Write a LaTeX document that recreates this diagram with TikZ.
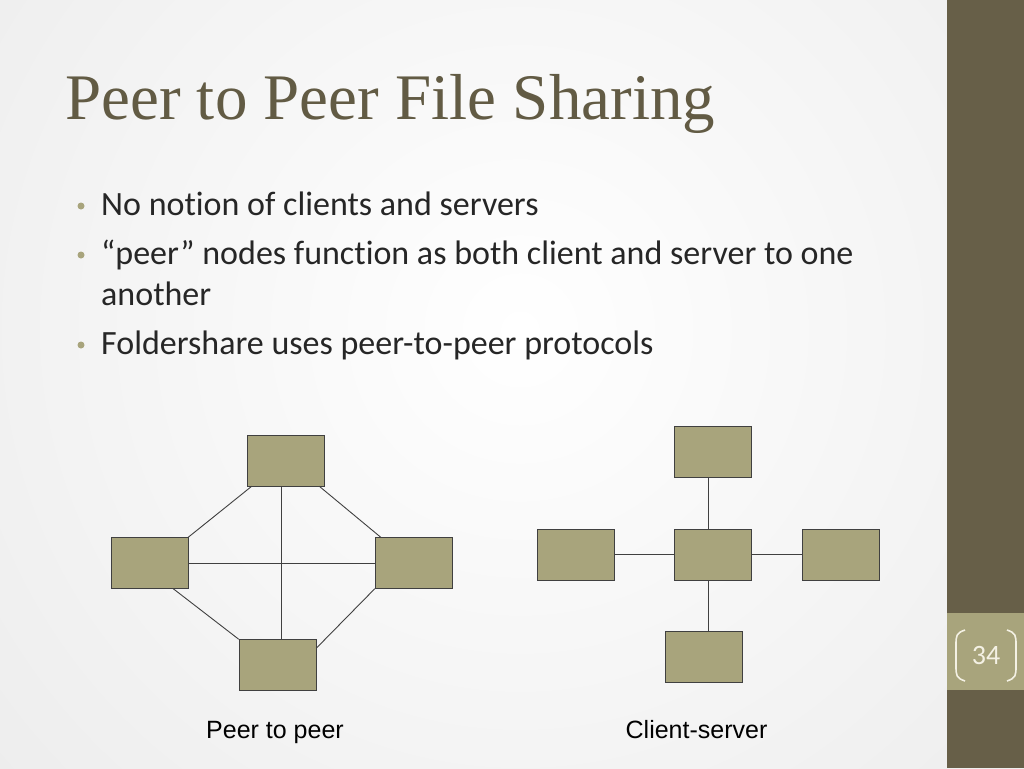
\documentclass[tikz,border=0pt]{standalone}
\usepackage{fontspec}
\setmainfont{Liberation Serif}
\newfontfamily\bodyfont[Ligatures=NoCommon]{Carlito}
\newfontfamily\capfont{Liberation Sans}
\definecolor{barbrown}{HTML}{675F48}
\definecolor{boxtan}{HTML}{A8A47C}
\definecolor{titlebrown}{HTML}{625B44}
\definecolor{cream}{HTML}{F4F1E4}
\begin{document}
\begin{tikzpicture}[x=1pt,y=-1pt,
    hostbox/.style={draw=black!75,fill=boxtan,minimum width=77pt,minimum height=51pt,inner sep=0pt},
    link/.style={draw=black!75,line width=.9pt},
    bulletdot/.style={circle,fill=boxtan,inner sep=0pt,minimum size=7pt},
    bullettext/.style={anchor=base west,inner sep=0pt,text=black!85,font=\bodyfont\fontsize{34}{34}\selectfont},
    caption/.style={anchor=base,inner sep=0pt,font=\capfont\fontsize{25}{25}\selectfont}]
  \useasboundingbox (0,0) rectangle (1024,768);
  % background and side bar
  \shade[inner color=white,outer color=black!10] (-460,-640) rectangle (1500,1300);
  \fill[barbrown] (947,0) rectangle (1024,768);
  \fill[boxtan] (947,613) rectangle (1024,690);
  \draw[cream,line width=1.6pt] (965,630) .. controls (956,633) and (956,636) .. (956,645)
    -- (956,666) .. controls (956,675) and (956,678) .. (965,681);
  \draw[cream,line width=1.6pt] (1007,630) .. controls (1016,633) and (1016,636) .. (1016,645)
    -- (1016,666) .. controls (1016,675) and (1016,678) .. (1007,681);
  \node[text=cream,inner sep=0pt,font=\bodyfont\fontsize{28}{28}\selectfont] (pagenum) at (986,656) {34};

  % title and bullets
  \node[anchor=base west,inner sep=0pt,text=titlebrown,font=\fontsize{65}{65}\selectfont] (title) at (65,119) {Peer to Peer File Sharing};
  \node[bulletdot] (b1) at (81,206) {};
  \node[bullettext] (t1) at (101,215) {No notion of clients and servers};
  \node[bulletdot] (b2) at (81,255) {};
  \node[bullettext] (t2) at (101,264) {“peer” nodes function as both client and server to one};
  \node[bullettext] (t2b) at (101,305) {another};
  \node[bulletdot] (b3) at (81,345) {};
  \node[bullettext] (t3) at (101,354) {Foldershare uses peer-to-peer protocols};

  % peer to peer
  \node[hostbox] (ptop) at (285.5,460.5) {};
  \node[hostbox] (pleft) at (149.5,563) {};
  \node[hostbox] (pright) at (413.5,563) {};
  \node[hostbox] (pbot) at (277.5,665) {};
  \coordinate (phub) at (281,563);
  \draw[link] (ptop.south -| phub) -- (pbot.north -| phub);
  \draw[link] (pleft.east) -- (pright.west);
  \draw[link] ([xshift=5pt]ptop.south west) -- (pleft.north east);
  \draw[link] ([xshift=-5pt]ptop.south east) -- ([xshift=6pt]pright.north west);
  \draw[link] ([xshift=-15pt]pleft.south east) -- (pbot.north west);
  \draw[link] (pright.south west) -- ([yshift=-9pt]pbot.north east);
  \node[caption] (pcap) at (275,738) {Peer to peer};

  % client-server
  \node[hostbox] (ctop) at (712.5,452) {};
  \node[hostbox] (cmid) at (712.5,554.5) {};
  \node[hostbox] (cleft) at (575.8,554.5) {};
  \node[hostbox] (cright) at (840.5,554.5) {};
  \node[hostbox] (cbot) at (703.8,657) {};
  \coordinate (chub) at (708,554.5);
  \draw[link] (ctop.south -| chub) -- (cmid.north -| chub);
  \draw[link] (cmid.south -| chub) -- (cbot.north -| chub);
  \draw[link] (cleft.east) -- (cmid.west);
  \draw[link] (cmid.east) -- (cright.west);
  \node[caption] (ccap) at (696.5,738) {Client-server};
\end{tikzpicture}
\end{document}
